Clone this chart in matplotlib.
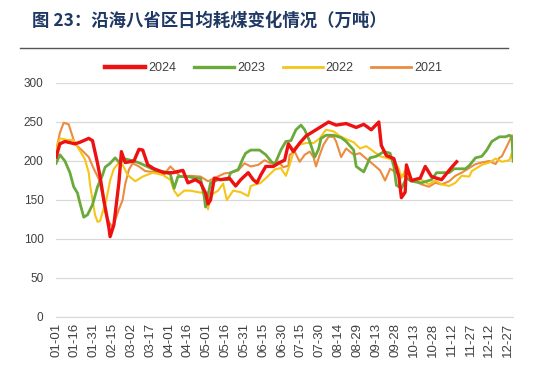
#!/usr/bin/env python3
"""Daily coal burn, eight coastal provinces, 2021-2024."""

import sys

import matplotlib
matplotlib.use('Agg')
import matplotlib.pyplot as plt
from matplotlib.lines import Line2D

TITLE = '图 23：沿海八省区日均耗煤变化情况（万吨）'

TICK_LABELS = ['01-01', '01-16', '01-31', '02-15', '03-02', '03-17', '04-01',
               '04-16', '05-01', '05-16', '05-31', '06-15', '06-30', '07-15',
               '07-30', '08-14', '08-29', '09-13', '09-28', '10-13', '10-28',
               '11-12', '11-27', '12-12', '12-27']
TICK_DAYS = list(range(0, 361, 15))

# day of year (0 = 01-01) and value
d2024 = [0, 3, 7, 15, 19, 26, 29, 33, 35, 38, 42, 43, 46, 50, 52, 55, 62, 66,
         69, 73, 78, 86, 93, 101, 105, 111, 115, 119, 121, 123, 126, 131, 138,
         143, 147, 153, 157, 160, 163, 167, 173, 178, 182, 185, 189, 194, 199,
         205, 211, 217, 223, 231, 239, 245, 251, 257, 259, 263, 269, 273, 275,
         278, 279, 283, 290, 294, 299, 307, 314, 319]
v2024 = [205, 222, 225, 222, 224, 229, 226, 197, 180, 150, 115, 103, 118, 172,
         212, 198, 200, 215, 214, 195, 190, 185, 185, 188, 172, 176, 172, 159,
         145, 150, 178, 176, 178, 168, 176, 185, 176, 172, 182, 193, 193, 198,
         201, 222, 212, 223, 232, 238, 244, 250, 246, 248, 243, 247, 240, 250,
         220, 207, 203, 180, 153, 160, 195, 175, 178, 193, 180, 176, 190, 199]

d2023 = [0, 3, 7, 11, 14, 17, 19, 22, 25, 29, 33, 37, 39, 43, 47, 51, 54, 62,
         67, 79, 87, 91, 94, 97, 105, 111, 115, 118, 119, 123, 129, 137, 139,
         145, 149, 151, 155, 162, 167, 171, 174, 179, 183, 187, 191, 195, 198,
         202, 206, 209, 211, 215, 221, 227, 231, 237, 239, 245, 250, 255, 261,
         266, 269, 271, 275, 279, 283, 291, 299, 303, 313, 317, 326, 329, 334,
         339, 343, 347, 353, 358, 361, 363, 364]
v2023 = [197, 208, 200, 185, 167, 159, 146, 128, 131, 144, 167, 182, 192, 197,
         204, 197, 203, 200, 197, 188, 186, 183, 165, 180, 180, 178, 178, 154,
         141, 172, 176, 176, 185, 189, 204, 210, 214, 214, 208, 200, 195, 214,
         225, 226, 240, 246, 240, 225, 205, 215, 229, 233, 233, 230, 225, 214,
         193, 186, 204, 206, 212, 210, 193, 169, 165, 178, 174, 172, 176, 185,
         185, 190, 190, 194, 204, 206, 214, 225, 231, 231, 233, 230, 200]

d2022 = [0, 3, 9, 14, 17, 19, 23, 26, 27, 29, 31, 33, 35, 38, 40, 43, 46, 50,
         53, 57, 63, 69, 77, 85, 91, 94, 97, 102, 107, 113, 118, 121, 123, 129,
         133, 136, 141, 147, 153, 155, 163, 169, 174, 179, 183, 186, 190, 194,
         199, 205, 210, 213, 215, 221, 226, 231, 237, 242, 247, 253, 258, 263,
         269, 273, 275, 278, 283, 291, 297, 302, 307, 313, 318, 323, 329, 331,
         339, 345, 350, 355, 361, 363, 364]
v2022 = [215, 229, 227, 227, 218, 213, 202, 185, 170, 150, 131, 122, 123, 140,
         150, 175, 190, 198, 195, 182, 174, 180, 185, 182, 176, 162, 155, 162,
         162, 160, 159, 138, 156, 162, 171, 150, 162, 160, 155, 168, 172, 181,
         189, 191, 181, 195, 217, 221, 223, 223, 229, 236, 240, 238, 232, 228,
         224, 216, 219, 212, 206, 204, 201, 190, 178, 188, 176, 176, 170, 175,
         170, 168, 172, 181, 180, 187, 195, 198, 203, 199, 201, 210, 199]

d2021 = [0, 3, 6, 10, 13, 15, 21, 26, 30, 34, 37, 39, 42, 45, 47, 50, 53, 55,
         58, 61, 66, 71, 77, 82, 86, 91, 99, 107, 115, 121, 126, 134, 139, 145,
         150, 155, 161, 166, 171, 177, 181, 185, 186, 190, 194, 198, 202, 205,
         207, 210, 213, 217, 221, 223, 227, 231, 237, 242, 247, 253, 258, 262,
         266, 271, 275, 281, 286, 291, 297, 302, 307, 313, 318, 323, 329, 334,
         339, 345, 350, 353, 355, 359, 362, 363, 364]
v2021 = [213, 236, 249, 247, 232, 222, 213, 205, 190, 177, 156, 135, 122, 115,
         124, 138, 150, 170, 189, 197, 193, 187, 186, 186, 183, 193, 180, 181,
         180, 174, 178, 184, 185, 188, 197, 193, 195, 201, 197, 199, 192, 194,
         208, 212, 199, 208, 212, 205, 193, 208, 221, 231, 231, 225, 205, 216,
         208, 210, 203, 195, 188, 175, 190, 185, 182, 178, 174, 170, 167, 172,
         170, 174, 181, 185, 191, 196, 198, 200, 196, 204, 206, 219, 229, 233,
         229]


def main() -> int:
    """Draw and save the chart."""
    plt.rcParams['font.family'] = ['Liberation Sans', 'Noto Sans CJK SC',
                                   'DejaVu Sans']

    fig = plt.figure(figsize=(5.5, 3.68), dpi=100)
    ax = fig.add_axes([0.102, 0.1386, 0.831, 0.6359])

    # draw the older years first so 2024 sits on top
    ax.plot(d2021, v2021, color='#ed8b3e', lw=1.5, label='2021', zorder=3)
    ax.plot(d2022, v2022, color='#f5c518', lw=1.5, label='2022', zorder=4)
    ax.plot(d2023, v2023, color='#6aaa3a', lw=2.0, label='2023', zorder=5)
    ax.plot(d2024, v2024, color='#ee1111', lw=2.4, label='2024', zorder=6)

    ax.set_xlim(0, 364)
    ax.set_ylim(0, 300)
    ax.set_yticks(range(0, 301, 50))
    ax.set_xticks(TICK_DAYS)
    ax.set_xticklabels(TICK_LABELS, rotation=90, fontsize=9.5,
                       color='#404040')
    ax.tick_params(axis='y', labelsize=8.5, labelcolor='#404040', length=0,
                   pad=9)
    ax.tick_params(axis='x', length=0, pad=4)
    ax.grid(axis='y', color='#d9d9d9', lw=0.9)
    ax.set_axisbelow(True)
    for side in ('top', 'right', 'left'):
        ax.spines[side].set_visible(False)
    ax.spines['bottom'].set_color('#d9d9d9')

    handles = [Line2D([], [], color='#ee1111', lw=3.2),
               Line2D([], [], color='#6aaa3a', lw=2.4),
               Line2D([], [], color='#f5c518', lw=2.0),
               Line2D([], [], color='#ed8b3e', lw=2.0)]
    fig.legend(handles, ['2024', '2023', '2022', '2021'], ncol=4,
               loc='center', bbox_to_anchor=(0.498, 0.815), frameon=False,
               fontsize=9, handlelength=3.2, columnspacing=1.4,
               handletextpad=0.25, labelcolor='#404040')

    fig.text(0.058, 0.943, TITLE, fontsize=12.5, fontweight='bold',
             color='#1f3864', va='center', family=['Noto Sans CJK SC'])
    fig.add_artist(Line2D([0.036, 0.924], [0.870, 0.870], color='#555555',
                          lw=1.0))

    fig.savefig('out.png', dpi=100)
    return 0


if __name__ == '__main__':
    sys.exit(main())
